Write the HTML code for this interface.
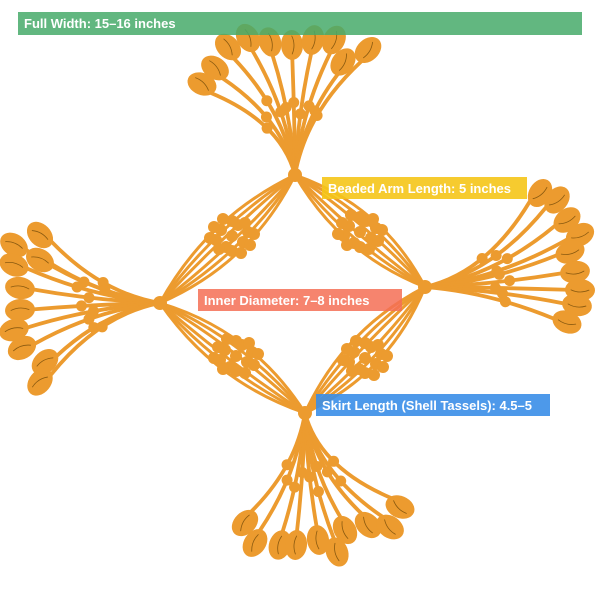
<!DOCTYPE html>
<html><head><meta charset="utf-8"><style>
html,body{margin:0;padding:0;background:#fff;width:600px;height:600px;overflow:hidden}
svg{display:block}
.lb{font-family:"Liberation Sans","DejaVu Sans",sans-serif;font-weight:bold;font-size:13px;fill:#fff}
</style></head><body>
<svg id="s" width="600" height="600" viewBox="0 0 600 600" xmlns="http://www.w3.org/2000/svg">
<g id="art" fill="#ec9b2f" stroke="#ec9b2f" stroke-linecap="round"></g>
<rect x="18" y="12" width="564" height="23" fill="#47aa6a" opacity="0.85"/>
<text class="lb" x="24" y="28">Full Width: 15–16 inches</text>
<rect x="322" y="177" width="205" height="22" fill="#f5c518" opacity="0.9"/>
<text class="lb" x="328" y="193">Beaded Arm Length: 5 inches</text>
<rect x="198" y="289" width="204" height="22" fill="#f56f55" opacity="0.85"/>
<text class="lb" x="204" y="305">Inner Diameter: 7–8 inches</text>
<rect x="316" y="394" width="234" height="22" fill="#3a8ee8" opacity="0.9"/>
<text class="lb" x="322" y="410">Skirt Length (Shell Tassels): 4.5–5</text>
</svg>
<script>
var g=document.getElementById('art'),NS='http://www.w3.org/2000/svg';
function el(t,a){var e=document.createElementNS(NS,t);for(var k in a)e.setAttribute(k,a[k]);g.appendChild(e);return e;}
function fan(h,ax,shells){
 shells.forEach(function(s,i){
  var dx=s[0]-h[0],dy=s[1]-h[1],L=Math.hypot(dx,dy),ux=dx/L,uy=dy/L;
  var ex=s[0]-ux*13,ey=s[1]-uy*13;
  var cx=h[0]+ax[0]*L*0.3+dx*0.15,cy=h[1]+ax[1]*L*0.3+dy*0.15;
  el('path',{d:'M'+h[0]+','+h[1]+' Q'+cx+','+cy+' '+ex+','+ey,fill:'none','stroke-width':3.8});
  var t=0.5+(i%3)*0.06;
  var bx=(1-t)*(1-t)*h[0]+2*t*(1-t)*cx+t*t*ex,by=(1-t)*(1-t)*h[1]+2*t*(1-t)*cy+t*t*ey;
  el('circle',{cx:bx,cy:by,r:5.5,stroke:'none'});
  var ang=Math.atan2(ey-cy,ex-cx)*180/Math.PI;
  el('ellipse',{cx:s[0],cy:s[1],rx:15,ry:11,transform:'rotate('+ang+' '+s[0]+' '+s[1]+')',stroke:'none'});
  el('path',{d:'M'+(s[0]-ux*9)+','+(s[1]-uy*9)+' Q'+(s[0]-uy*4)+','+(s[1]+ux*4)+' '+(s[0]+ux*9)+','+(s[1]+uy*9),fill:'none',stroke:'#8a5a10','stroke-width':0.8});
 });
 el('circle',{cx:h[0],cy:h[1],r:7,stroke:'none'});
}
function arm(a,b,c){
 var mx=(a[0]+b[0])/2,my=(a[1]+b[1])/2,dx=b[0]-a[0],dy=b[1]-a[1],L=Math.hypot(dx,dy);
 var nx=-dy/L,ny=dx/L;
 [-34,-22,-10,6,18,30].forEach(function(o){
  el('path',{d:'M'+a[0]+','+a[1]+' Q'+(mx+nx*o)+','+(my+ny*o)+' '+b[0]+','+b[1],fill:'none','stroke-width':3});
 });
 var pts=[[0,0],[-11,-6],[11,6],[-6,11],[6,-11],[-16,4],[16,-4],[0,-15],[0,15],[-9,-17],[9,17],[-18,-9],[18,9],[13,-13],[-13,13],[-22,2],[22,-2]];
 pts.forEach(function(p){el('circle',{cx:c[0]+p[0],cy:c[1]+p[1],r:6,stroke:'none'});});
}
var T=[295,175],R=[425,287],B=[305,413],Lf=[160,303];
arm(T,Lf,[232,236]);arm(T,R,[360,232]);arm(Lf,B,[236,356]);arm(R,B,[365,358]);
fan(T,[0,-1],[[202,84],[215,68],[228,47],[248,38],[270,42],[292,45],[313,40],[334,40],[343,62],[368,50]]);
fan(R,[1,0],[[540,193],[557,200],[567,220],[580,235],[570,252],[575,272],[580,290],[577,305],[567,322]]);
fan(Lf,[-1,0],[[40,235],[14,245],[14,265],[40,260],[20,288],[20,310],[14,330],[22,348],[45,362],[40,382]]);
fan(B,[0,1],[[245,523],[255,543],[280,545],[296,545],[318,540],[337,552],[345,530],[368,525],[390,527],[400,507]]);
</script>
</body></html>
